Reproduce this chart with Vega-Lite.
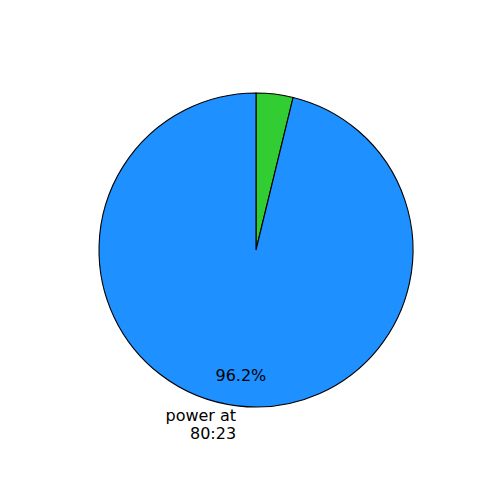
{
  "$schema": "https://vega.github.io/schema/vega-lite/v6.json",
  "width": 488,
  "height": 500,
  "autosize": "none",
  "padding": {"left": 12, "top": 0, "right": 0, "bottom": 0},
  "background": "white",
  "config": {"view": {"stroke": null}},
  "data": {
    "values": [
      {"name": "other", "value": 3.8, "rank": 1, "pct": "", "label": ""},
      {"name": "power at 80:23", "value": 96.2, "rank": 2, "pct": "96.2%", "label": "power at\n80:23"}
    ]
  },
  "encoding": {
    "theta": {"field": "value", "type": "quantitative", "stack": true},
    "order": {"field": "rank", "type": "quantitative"}
  },
  "layer": [
    {
      "mark": {"type": "arc", "outerRadius": 157, "stroke": "black", "strokeWidth": 1.1},
      "encoding": {
        "color": {
          "field": "name",
          "type": "nominal",
          "scale": {"domain": ["other", "power at 80:23"], "range": ["#32CD32", "#1E90FF"]},
          "legend": null
        }
      }
    },
    {
      "mark": {"type": "text", "radius": 127, "font": "DejaVu Sans", "fontSize": 16, "color": "black", "align": "center", "baseline": "middle"},
      "encoding": {"text": {"field": "pct", "type": "nominal"}}
    },
    {
      "mark": {"type": "text", "radius": 167, "font": "DejaVu Sans", "fontSize": 16, "color": "black", "align": "right", "baseline": "middle", "lineBreak": "\n", "lineHeight": 18},
      "encoding": {"text": {"field": "label", "type": "nominal"}}
    }
  ]
}
